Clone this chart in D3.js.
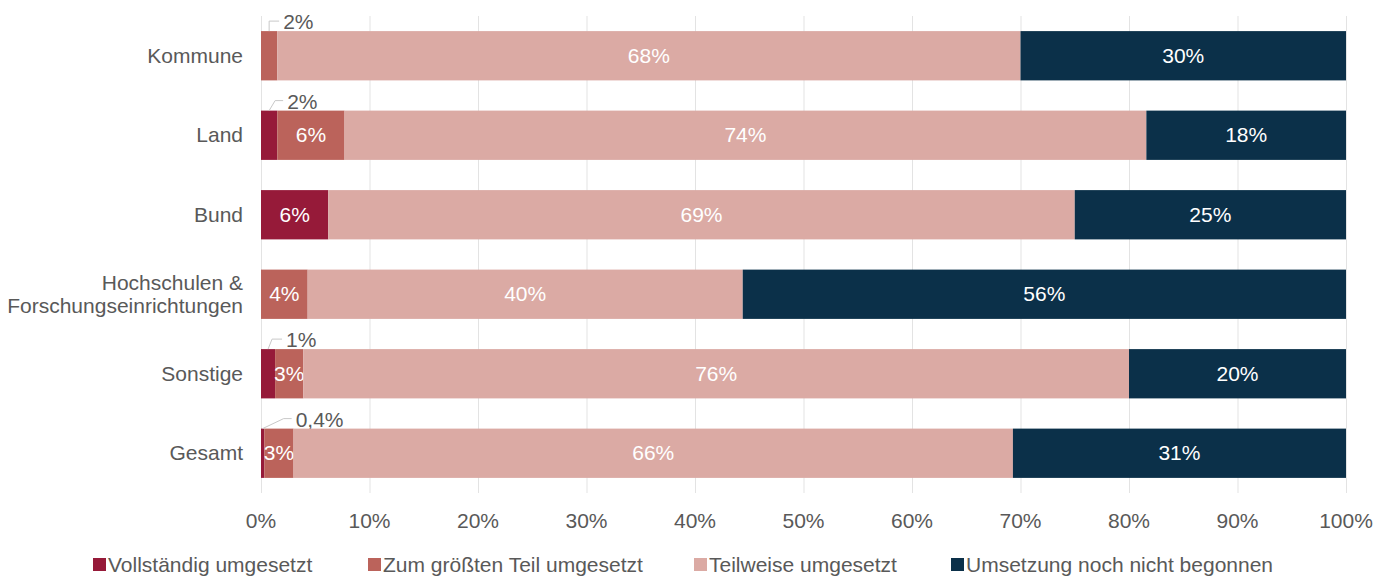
<!DOCTYPE html>
<html lang="de">
<head>
    <meta charset="UTF-8">
    <title>Umsetzungsstand nach Ebene</title>
    <script src="https://d3js.org/d3.v7.min.js"></script>
    <style>
        body {
            margin: 0;
            background: #fff;
        }
        svg {
            display: block;
            font-family: "Liberation Sans", Arial, sans-serif;
        }
        .grid line {
            stroke: #e3e3e3;
            stroke-width: 1px;
        }
        .tick-label, .cat-label, .legend-text, .callout-text {
            fill: #595959;
            font-size: 21px;
        }
        .in-label {
            fill: #fff;
            font-size: 21px;
        }
        .callout-line {
            fill: none;
            stroke: #c8c8c8;
            stroke-width: 1px;
        }
    </style>
</head>
<body>
    <svg id="chart" width="1392" height="576"></svg>

    <script>
        const categories = ["Kommune", "Land", "Bund", "Hochschulen & Forschungseinrichtungen", "Sonstige", "Gesamt"];
        const seriesNames = ["Vollständig umgesetzt", "Zum größten Teil umgesetzt", "Teilweise umgesetzt", "Umsetzung noch nicht begonnen"];
        const seriesColors = ["#961a39", "#bb635b", "#dbaaa4", "#0b3049"];

        // Anteile in Prozent je Kategorie (Reihenfolge wie seriesNames)
        const vollstaendig = [0, 1.5, 6.2, 0, 1.3, 0.3];
        const groesstenteils = [1.5, 6.2, 0, 4.3, 2.6, 2.7];
        const teilweise = [68.5, 73.9, 68.8, 40.1, 76.1, 66.3];
        const nichtBegonnen = [30.0, 18.4, 25.0, 55.6, 20.0, 30.7];

        // angezeigte Beschriftungen
        const labels = [
            ["", "2%", "68%", "30%"],
            ["2%", "6%", "74%", "18%"],
            ["6%", "", "69%", "25%"],
            ["", "4%", "40%", "56%"],
            ["1%", "3%", "76%", "20%"],
            ["0,4%", "3%", "66%", "31%"]
        ];
        const xTicks = [0, 10, 20, 30, 40, 50, 60, 70, 80, 90, 100];

        const series = [vollstaendig, groesstenteils, teilweise, nichtBegonnen];

        const svg = d3.select("#chart");
        const plotLeft = 261, plotRight = 1346, plotTop = 16, plotBottom = 493;

        const x = d3.scaleLinear().domain([0, 100]).range([plotLeft, plotRight]);
        const y = d3.scaleBand().domain(categories).range([plotTop, plotBottom]).paddingInner(0.38).paddingOuter(0.19);

        // Gitterlinien
        svg.append("g").attr("class", "grid")
            .selectAll("line").data(xTicks).join("line")
            .attr("x1", d => x(d) + 0.5).attr("x2", d => x(d) + 0.5)
            .attr("y1", plotTop).attr("y2", plotBottom);

        // Achsenbeschriftung
        svg.append("g").selectAll("text").data(xTicks).join("text")
            .attr("class", "tick-label")
            .attr("x", d => x(d))
            .attr("y", 528)
            .attr("text-anchor", "middle")
            .text(d => d + "%");

        // Kategorien
        const catG = svg.append("g");
        categories.forEach(c => {
            const cy = y(c) + y.bandwidth() / 2;
            const t = catG.append("text").attr("class", "cat-label")
                .attr("text-anchor", "end").attr("x", 243);
            if (c.startsWith("Hochschulen")) {
                t.append("tspan").attr("x", 243).attr("y", cy - 4).text("Hochschulen &");
                t.append("tspan").attr("x", 243).attr("y", cy + 19).text("Forschungseinrichtungen");
            } else {
                t.attr("y", cy + 7).text(c);
            }
        });

        // Balken
        const barG = svg.append("g");
        const calloutDx = {"Kommune": [0, 10], "Land": [6, 14], "Sonstige": [4, 14], "Gesamt": [21, 29]};
        categories.forEach((c, i) => {
            let acc = 0;
            series.forEach((s, k) => {
                const v = s[i];
                const x0 = x(acc), x1 = x(acc + v);
                acc += v;
                if (v <= 0) return;
                barG.append("rect")
                    .attr("x", x0).attr("y", y(c))
                    .attr("width", x1 - x0).attr("height", y.bandwidth())
                    .attr("fill", seriesColors[k]);
                const lab = labels[i][k];
                if (!lab) return;
                const cx = (x0 + x1) / 2;
                if (x1 - x0 > 24) {
                    barG.append("text").attr("class", "in-label")
                        .attr("x", cx).attr("y", y(c) + y.bandwidth() / 2 + 7)
                        .attr("text-anchor", "middle").text(lab);
                } else {
                    // Beschriftung oberhalb mit Führungslinie
                    const dx = calloutDx[c] || [6, 14];
                    const ly = y(c) - 10;
                    barG.append("path").attr("class", "callout-line")
                        .attr("d", `M${cx},${y(c)} L${cx + dx[0]},${ly} L${cx + dx[1]},${ly}`);
                    barG.append("text").attr("class", "callout-text")
                        .attr("x", cx + dx[1] + 4).attr("y", ly + 8).text(lab);
                }
            });
        });

        // Legende
        const legendX = [93, 368, 694, 951];
        const legG = svg.append("g");
        seriesNames.forEach((n, k) => {
            legG.append("rect").attr("x", legendX[k]).attr("y", 558)
                .attr("width", 13).attr("height", 13).attr("fill", seriesColors[k]);
            legG.append("text").attr("class", "legend-text")
                .attr("x", legendX[k] + 15).attr("y", 572).text(n);
        });
    </script>
</body>
</html>
